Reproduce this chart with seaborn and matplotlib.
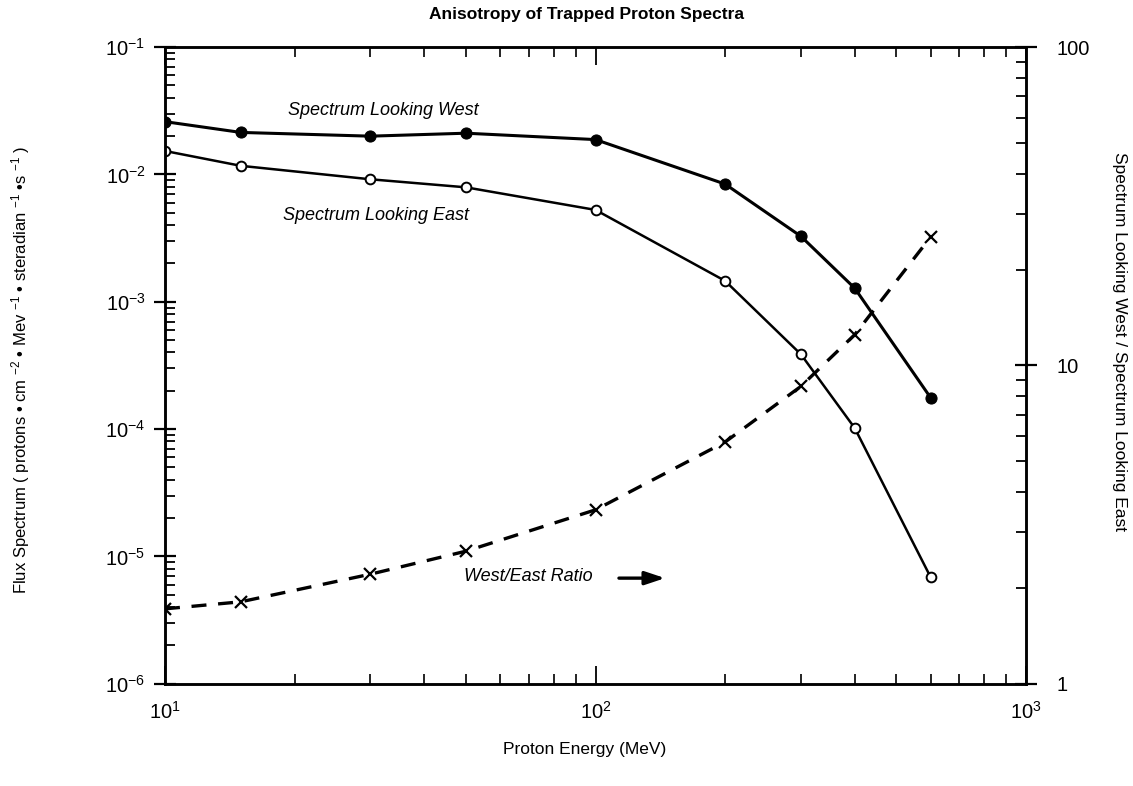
import matplotlib
matplotlib.use("Agg")
import matplotlib.pyplot as plt
import matplotlib.ticker as mticker
import seaborn as sns
import numpy as np
import pandas as pd

# ---- data ----
energy = [10, 15, 30, 50, 100, 200, 300, 400, 600]
flux_west = [0.0260, 0.0214, 0.0200, 0.0211, 0.0188, 0.00841, 0.00327, 0.00128, 1.77e-4]
flux_east = [0.0153, 0.0117, 0.00917, 0.00793, 0.00527, 0.00146, 3.87e-4, 1.02e-4, 6.9e-6]
ratio = [1.72, 1.81, 2.21, 2.61, 3.52, 5.75, 8.6, 12.5, 25.3]

xticks = [10, 100, 1000]
yticks_left = [1e-6, 1e-5, 1e-4, 1e-3, 1e-2, 1e-1]
yticks_right = [1, 10, 100]
yticklabels_right = ["1", "10", "100"]

sns.set_style("ticks")
plt.rcParams["font.family"] = ["Liberation Sans", "DejaVu Sans"]
plt.rcParams["mathtext.fontset"] = "custom"
plt.rcParams["mathtext.rm"] = "Liberation Sans"
plt.rcParams["mathtext.it"] = "Liberation Sans:italic"
for k in ["text.color", "axes.labelcolor", "xtick.color", "ytick.color", "axes.edgecolor"]:
    plt.rcParams[k] = "black"

fig = plt.figure(figsize=(11.33, 7.86), dpi=100)
ax = fig.add_axes([0.1456, 0.130, 0.760, 0.810])
ax.set_xscale("log")
ax.set_yscale("log")
ax.set_xlim(10, 1000)
ax.set_ylim(1e-6, 1e-1)

df = pd.DataFrame({"energy": energy, "west": flux_west, "east": flux_east, "ratio": ratio})

sns.lineplot(data=df, x="energy", y="west", ax=ax, color="black", lw=2.2,
             marker="o", markersize=8, markerfacecolor="black",
             markeredgecolor="black")
sns.lineplot(data=df, x="energy", y="east", ax=ax, color="black", lw=1.8,
             marker="o", markersize=7, markerfacecolor="white",
             markeredgecolor="black", markeredgewidth=1.4)

ax2 = ax.twinx()
ax2.set_yscale("log")
ax2.set_ylim(1, 100)
sns.lineplot(data=df, x="energy", y="ratio", ax=ax2, color="black", lw=2.4,
             linestyle=(0, (4.5, 3.5)), marker="x", markersize=8,
             markeredgewidth=1.6, markeredgecolor="black")
ax2.set_xlim(10, 1000)

for a in (ax, ax2):
    a.set_xlabel("")
    a.set_ylabel("")
    for s in a.spines.values():
        s.set_visible(True)
        s.set_linewidth(1.8)
        s.set_color("black")

ax.set_xticks(xticks)
ax.set_yticks(yticks_left)
ax.xaxis.set_minor_locator(mticker.LogLocator(base=10, subs=np.arange(2, 10), numticks=20))
ax.yaxis.set_minor_locator(mticker.LogLocator(base=10, subs=np.arange(2, 10), numticks=20))
ax.yaxis.set_minor_formatter(mticker.NullFormatter())
ax.xaxis.set_minor_formatter(mticker.NullFormatter())

ax.tick_params(axis="y", which="major", direction="inout", length=16, width=1.6,
               labelsize=14.5, left=True, right=False, pad=6)
ax.tick_params(axis="y", which="minor", direction="in", length=7, width=1.3,
               left=True, right=False)
ax.tick_params(axis="x", which="major", direction="in", length=13, width=1.3,
               labelsize=14.5, top=True, bottom=True, pad=12)
ax.tick_params(axis="x", which="minor", direction="in", length=7, width=1.2,
               top=True, bottom=True)

ax2.set_yticks(yticks_right)
ax2.set_yticklabels(yticklabels_right)
ax2.yaxis.set_minor_locator(mticker.LogLocator(base=10, subs=np.arange(2, 10), numticks=20))
ax2.yaxis.set_minor_formatter(mticker.NullFormatter())
ax2.tick_params(axis="y", which="major", direction="inout", length=16, width=1.6,
                labelsize=14.5, pad=14)
ax2.tick_params(axis="y", which="minor", direction="in", length=7, width=1.3)

# labels
fig.text(0.518, 0.981, "Anisotropy of Trapped Proton Spectra", ha="center", va="center",
         fontsize=12.5, fontweight="bold")
fig.text(0.516, 0.046, "Proton Energy (MeV)", ha="center", va="center", fontsize=12.5)
fig.text(0.018, 0.53,
         "Flux Spectrum ( protons \u2022 cm $^{-2}$ \u2022 Mev $^{-1}$ \u2022 steradian $^{-1}$ \u2022s $^{-1}$ )",
         rotation=90, ha="center", va="center", fontsize=12)
fig.text(0.988, 0.565, "Spectrum Looking West / Spectrum Looking East",
         rotation=270, ha="center", va="center", fontsize=12.5)

ax.text(0.253, 0.901, "Spectrum Looking West", transform=ax.transAxes,
        ha="center", va="center", fontsize=13, style="italic")
ax.text(0.245, 0.736, "Spectrum Looking East", transform=ax.transAxes,
        ha="center", va="center", fontsize=13, style="italic")
ax.text(0.422, 0.168, "West/East Ratio", transform=ax.transAxes,
        ha="center", va="center", fontsize=13, style="italic")
ax.annotate("", xy=(0.584, 0.166), xytext=(0.524, 0.166), xycoords="axes fraction",
            arrowprops=dict(arrowstyle="-|>,head_length=1.2,head_width=0.4",
                            color="black", lw=2.4))

fig.savefig("out.png", dpi=100)
